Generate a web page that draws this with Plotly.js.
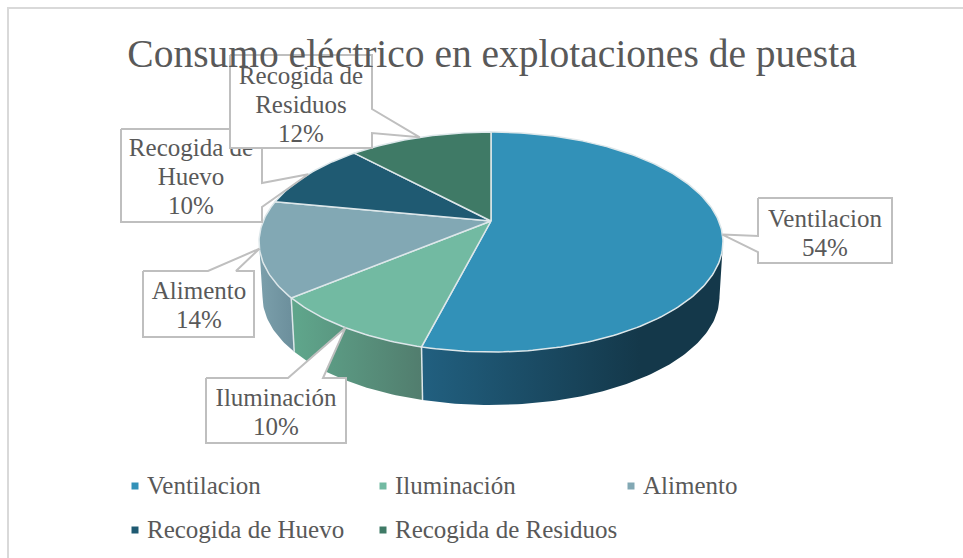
<!DOCTYPE html>
<html>
<head>
<meta charset="utf-8">
<script src="https://cdn.plot.ly/plotly-3.0.1.min.js"></script>
<style>
html, body { margin: 0; padding: 0; background: #fff; }
#chart { width: 963px; height: 558px; }
</style>
</head>
<body>
<div id="chart"></div>
<script>
var chartTitle = 'Consumo eléctrico en explotaciones de puesta';
var categories = ['Ventilacion', 'Iluminación', 'Alimento', 'Recogida de Huevo', 'Recogida de Residuos'];
var values = [54, 10, 14, 10, 12];
var topColors = ['#3291b8', '#72baa2', '#82a8b4', '#1f5a72', '#3f7a66'];

// label text as wrapped in the picture
var labelLines = [['Ventilacion'], ['Iluminación'], ['Alimento'], ['Recogida de', 'Huevo'], ['Recogida de', 'Residuos']];

// side wall gradients, left to right (only the three front slices show a wall)
var wallFrom = ['#215f7f', '#5fa58b', '#7a9eaa'];
var wallTo = ['#14384a', '#517c6d', '#6a8d9a'];
var wallGradStart = [425, 297, 262];
var wallGradStop = [640, 425, 297];

// callout boxes in pixels: left, top, right, bottom
var boxLeft = [758, 206, 143, 121, 230];
var boxTop = [198, 378, 271, 129, 55];
var boxRight = [892, 346, 254, 262, 372];
var boxBottom = [263, 443, 337, 222, 148];
var textX = [825, 276, 199, 191, 301];
var textY = [235, 414, 307, 179, 107];
var labelLineGap = 29;

// pie projection
var apexX = 491, apexY = 221, wallDrop = 55, wallScale = 0.985;
var persp = 0.191, radX = 227.7, radY = 106;

var textColor = '#595959';
var lineColor = '#bfbfbf';
var edgeColor = '#dde7ea';
var fontName = '"Liberation Serif", serif';
var labelSize = 25;

function rim(deg, lower) {
  var a = deg * Math.PI / 180;
  var u = Math.sin(a), v = Math.cos(a);
  var d = 1 + persp * v;
  var s = lower ? wallScale : 1;
  return {
    x: apexX + s * radX * u / d,
    y: apexY + (lower ? wallDrop : 0) - s * radY * v / d
  };
}

function arc(from, to, lower) {
  var xs = [], ys = [];
  var n = Math.max(2, Math.ceil(Math.abs(to - from)));
  for (var i = 0; i <= n; i++) {
    var p = rim(from + (to - from) * i / n, lower);
    xs.push(p.x);
    ys.push(p.y);
  }
  return { x: xs, y: ys };
}

// cumulative angles of the slice borders
var borders = [0];
var total = values.reduce(function(a, b) { return a + b; }, 0);
values.forEach(function(v, i) { borders.push(borders[i] + v / total * 360); });

var traces = [];

// side walls go first, the top covers them
var tangent = Math.acos(-persp) * 180 / Math.PI;
var wallFirst = tangent, wallLast = 360 - tangent;
for (var i = 0; i < 3; i++) {
  var from = Math.max(borders[i], wallFirst);
  var to = Math.min(borders[i + 1], wallLast);
  var up = arc(from, to, false);
  var down = arc(to, from, true);
  traces.push({
    x: up.x.concat(down.x), y: up.y.concat(down.y),
    mode: 'lines', fill: 'toself', line: { width: 0 },
    fillgradient: {
      type: 'horizontal',
      colorscale: [[0, wallFrom[i]], [1, wallTo[i]]],
      start: wallGradStart[i], stop: wallGradStop[i]
    }
  });
}
// wall separators
[borders[1], borders[2]].forEach(function(b) {
  var p = rim(b, false), q = rim(b, true);
  traces.push({ x: [p.x, q.x], y: [p.y, q.y], mode: 'lines', line: { color: edgeColor, width: 1.5 } });
});

// top face
values.forEach(function(v, i) {
  var a = arc(borders[i], borders[i + 1], false);
  traces.push({
    x: [apexX].concat(a.x, [apexX]), y: [apexY].concat(a.y, [apexY]),
    mode: 'lines', fill: 'toself', fillcolor: topColors[i],
    line: { color: edgeColor, width: 1.5 }
  });
});

// callouts: tail points at the rim in the middle of each slice
var tailA = [[758, 236], [288, 378], [208, 271], [262, 183], [372, 109]];
var tailB = [[758, 252], [323, 378], [236, 271], [262, 207], [372, 133]];
var tailSide = ['left', 'top', 'top', 'right', 'right'];

function calloutPath(i) {
  var l = boxLeft[i], t = boxTop[i], r = boxRight[i], b = boxBottom[i];
  var tip = rim((borders[i] + borders[i + 1]) / 2, false);
  var A = tailA[i], B = tailB[i];
  var pts;
  if (tailSide[i] === 'left') pts = [[l, t], [r, t], [r, b], [l, b], B, [tip.x, tip.y], A];
  else if (tailSide[i] === 'top') pts = [[l, t], A, [tip.x, tip.y], B, [r, t], [r, b], [l, b]];
  else pts = [[l, t], [r, t], A, [tip.x, tip.y], B, [r, b], [l, b]];
  pts.push([l, t]);
  return pts;
}

values.forEach(function(v, i) {
  var pts = calloutPath(i);
  traces.push({
    x: pts.map(function(p) { return p[0]; }), y: pts.map(function(p) { return p[1]; }),
    mode: 'lines', fill: 'toself', fillcolor: '#ffffff',
    line: { color: lineColor, width: 2 }
  });
  // one text point per line so the line gap can follow the picture
  var lines = labelLines[i].concat([v + '%']);
  traces.push({
    x: lines.map(function() { return textX[i]; }),
    y: lines.map(function(s, j) { return textY[i] + (j - (lines.length - 1) / 2) * labelLineGap; }),
    mode: 'text', text: lines,
    textposition: 'middle center',
    textfont: { family: fontName, size: labelSize, color: textColor }
  });
});

// legend drawn by hand, the spacing of the original does not fit plotly's legend
var legendX = [135, 383, 631, 135, 383];
var legendY = [486, 486, 486, 530, 530];
categories.forEach(function(c, i) {
  traces.push({
    x: [legendX[i]], y: [legendY[i]], mode: 'markers',
    marker: { symbol: 'square', size: 7, color: topColors[i] }
  });
  traces.push({
    x: [legendX[i] + 12], y: [legendY[i] + 2], mode: 'text', text: [c],
    textposition: 'middle right',
    textfont: { family: fontName, size: labelSize, color: textColor }
  });
});

var layout = {
  width: 963, height: 558,
  margin: { l: 0, r: 0, t: 0, b: 0 },
  paper_bgcolor: '#fff', plot_bgcolor: '#fff',
  showlegend: false,
  hovermode: false,
  title: {
    text: chartTitle,
    x: 492 / 963, xanchor: 'center',
    y: 1 - 53 / 558, yanchor: 'middle',
    font: { family: fontName, size: 39.5, color: textColor }
  },
  xaxis: { range: [0, 963], visible: false, fixedrange: true },
  yaxis: { range: [558, 0], visible: false, fixedrange: true },
  shapes: [
    { type: 'line', xref: 'x', yref: 'y', x0: 7, y0: 8, x1: 963, y1: 8, line: { color: '#d9d9d9', width: 2 } },
    { type: 'line', xref: 'x', yref: 'y', x0: 8, y0: 7, x1: 8, y1: 558, line: { color: '#d9d9d9', width: 2 } }
  ]
};

Plotly.newPlot('chart', traces, layout, { displayModeBar: false, staticPlot: true });
</script>
</body>
</html>
